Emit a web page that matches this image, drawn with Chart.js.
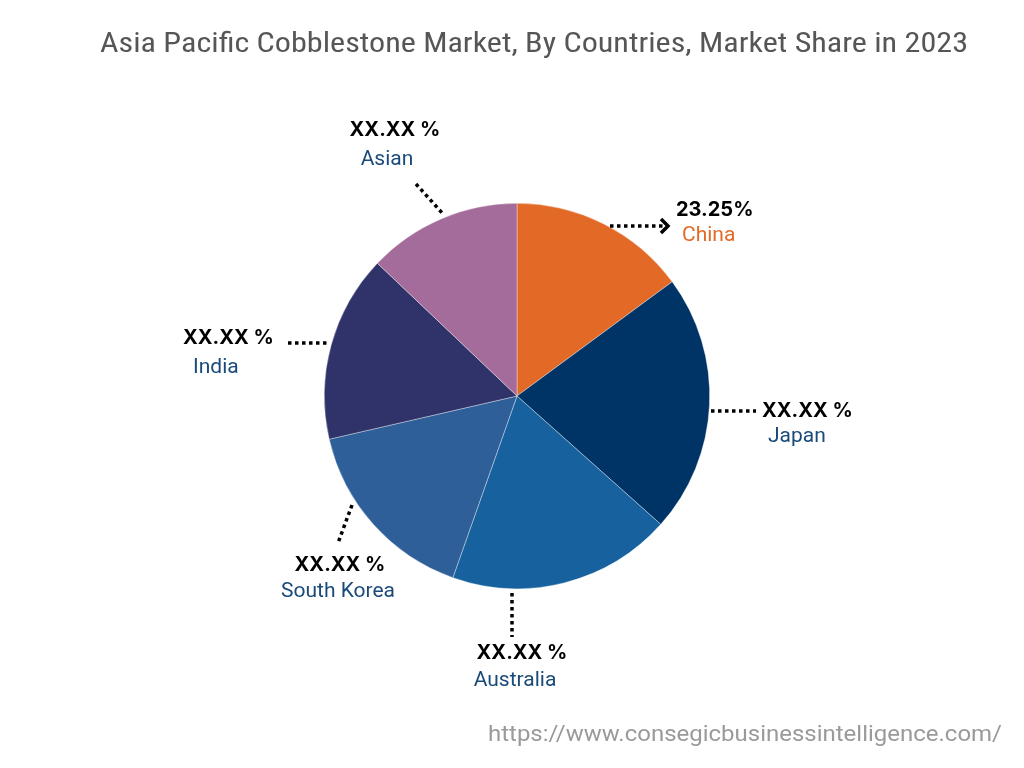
<!DOCTYPE html>
<html>
<head>
<meta charset="utf-8">
<script src="https://cdn.jsdelivr.net/npm/chart.js@4.4.1/dist/chart.umd.min.js"></script>
<style>
    html, body { margin: 0; padding: 0; background: #ffffff; }
    #wrap { position: relative; width: 1024px; height: 768px; }
</style>
</head>
<body>
<div id="wrap"><canvas id="chartPais" width="1024" height="768"></canvas></div>
<script>
// datos
const paises = ["China", "Japan", "Australia", "South Korea", "India", "Asian"];
const participacion = [14.9, 21.7, 18.8, 16.0, 15.7, 12.9];
const etiquetas = ["23.25%", "XX.XX %", "XX.XX %", "XX.XX %", "XX.XX %", "XX.XX %"];
const colores = ["#E36A26", "#003366", "#17629E", "#2E5F98", "#2F3369", "#A46C9A"];

const titulo = "Asia Pacific Cobblestone Market, By Countries, Market Share in 2023";
const fuente = "https://www.consegicbusinessintelligence.com/";

// posiciones de cada etiqueta
const posEtiquetas = {
    "China":       { pct: [676, 210, "left"],   nom: [682, 236, "left"],   linea: [[610, 226], [664, 226]], flecha: true },
    "Japan":       { pct: [762, 411, "left"],   nom: [768, 437, "left"],   linea: [[711, 411], [756, 411]] },
    "Australia":   { pct: [522, 653, "center"], nom: [515, 681, "center"], linea: [[512, 593], [512, 637]] },
    "South Korea": { pct: [340, 565, "center"], nom: [338, 592, "center"], linea: [[352, 505], [338, 543]] },
    "India":       { pct: [183, 338, "left"],   nom: [193, 368, "left"],   linea: [[288, 343], [330, 343]] },
    "Asian":       { pct: [395, 130, "center"], nom: [387, 160, "center"], linea: [[416, 184], [444, 215]] }
};

function textoAjustado(ctx, texto, x, y, anchoObjetivo) {
    const ancho = ctx.measureText(texto).width;
    ctx.save();
    ctx.translate(x, y);
    ctx.scale(anchoObjetivo / ancho, 1);
    ctx.fillText(texto, 0, 0);
    ctx.restore();
}

const pluginTextos = {
    id: "textos",
    afterDraw(chart) {
        const ctx = chart.ctx;
        ctx.save();

        // titulo
        ctx.fillStyle = "#565656";
        ctx.font = "27px 'Roboto Condensed', 'DejaVu Sans Condensed', Roboto, sans-serif";
        ctx.textAlign = "center";
        ctx.textBaseline = "middle";
        textoAjustado(ctx, titulo, 534, 45, 868);

        // etiquetas y lineas punteadas
        paises.forEach((pais, i) => {
            const p = posEtiquetas[pais];
            ctx.strokeStyle = "#000000";
            ctx.lineWidth = 3.5;
            ctx.setLineDash([3.5, 3.5]);
            ctx.beginPath();
            ctx.moveTo(p.linea[0][0], p.linea[0][1]);
            ctx.lineTo(p.linea[1][0], p.linea[1][1]);
            ctx.stroke();
            ctx.setLineDash([]);

            if (p.flecha) {
                const [x, y] = p.linea[1];
                ctx.lineWidth = 3.5;
                ctx.lineJoin = "miter";
                ctx.beginPath();
                ctx.moveTo(x - 3, y - 7);
                ctx.lineTo(x + 4, y);
                ctx.lineTo(x - 3, y + 7);
                ctx.stroke();
            }

            ctx.textBaseline = "middle";
            ctx.fillStyle = "#000000";
            ctx.font = "bold 20px Inter, Roboto, sans-serif";
            ctx.textAlign = p.pct[2];
            ctx.fillText(etiquetas[i], p.pct[0], p.pct[1]);

            ctx.fillStyle = pais === "China" ? "#E36A26" : "#1A4A7A";
            ctx.font = "21px Roboto, 'Noto Sans', sans-serif";
            ctx.textAlign = p.nom[2];
            ctx.fillText(pais, p.nom[0], p.nom[1]);
        });

        // fuente
        ctx.fillStyle = "#9a9a9a";
        ctx.font = "22px Roboto, 'Open Sans', sans-serif";
        ctx.textAlign = "right";
        ctx.textBaseline = "middle";
        textoAjustado(ctx, fuente, 1002, 735, 514);

        ctx.restore();
    }
};

new Chart(document.getElementById("chartPais"), {
    type: "pie",
    data: {
        labels: paises,
        datasets: [{
            data: participacion,
            backgroundColor: colores,
            borderColor: "rgba(255,255,255,0.6)",
            borderWidth: 0.6
        }]
    },
    options: {
        responsive: false,
        animation: false,
        layout: {
            padding: { left: 324, right: 314, top: 203, bottom: 179 }
        },
        plugins: {
            legend: { display: false },
            title: { display: false },
            tooltip: { enabled: false }
        }
    },
    plugins: [pluginTextos]
});
</script>
</body>
</html>
